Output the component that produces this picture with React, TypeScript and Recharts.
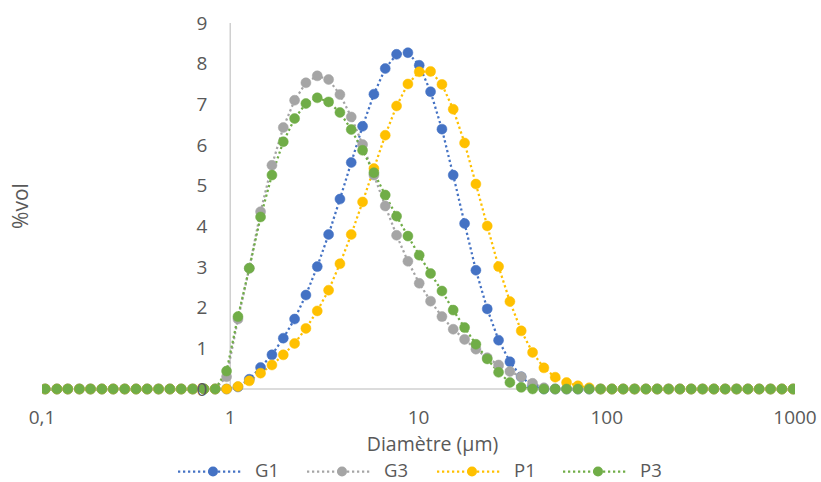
import { LineChart, Line, XAxis, YAxis, ReferenceLine, ReferenceDot, Legend } from 'recharts'

// particle size classes (µm), log spaced
const diameters = [
  0.104, 0.120, 0.137, 0.158, 0.181, 0.208, 0.239, 0.275, 0.316, 0.362,
  0.416, 0.478, 0.549, 0.631, 0.725, 0.832, 0.956, 1.099, 1.262, 1.449,
  1.665, 1.913, 2.197, 2.523, 2.899, 3.330, 3.825, 4.393, 5.046, 5.796,
  6.658, 7.648, 8.785, 10.09, 11.59, 13.32, 15.29, 17.57, 20.18, 23.18,
  26.63, 30.59, 35.13, 40.36, 46.36, 53.25, 61.17, 70.26, 80.71, 92.71,
  106.5, 122.3, 140.5, 161.4, 185.4, 213.0, 244.6, 281.0, 322.8, 370.7,
  425.9, 489.2, 561.9, 645.5, 741.4, 851.6, 978.3,
]

const g1 = [
  0, 0, 0, 0, 0, 0, 0, 0, 0, 0,
  0, 0, 0, 0, 0, 0, 0, 0.05, 0.24, 0.53,
  0.84, 1.25, 1.72, 2.31, 3.01, 3.80, 4.67, 5.57, 6.46, 7.25,
  7.88, 8.23, 8.27, 7.96, 7.31, 6.39, 5.26, 4.07, 2.92, 1.97,
  1.20, 0.67, 0.30, 0.07, 0, 0, 0, 0, 0, 0,
  0, 0, 0, 0, 0, 0, 0, 0, 0, 0,
  0, 0, 0, 0, 0, 0, 0,
]

const g3 = [
  0, 0, 0, 0, 0, 0, 0, 0, 0, 0,
  0, 0, 0, 0, 0, 0, 0.30, 1.72, 2.97, 4.36,
  5.50, 6.43, 7.10, 7.53, 7.70, 7.61, 7.24, 6.69, 6.01, 5.26,
  4.50, 3.78, 3.14, 2.60, 2.16, 1.78, 1.47, 1.22, 0.98, 0.77,
  0.59, 0.43, 0.30, 0.14, 0.03, 0, 0, 0, 0, 0,
  0, 0, 0, 0, 0, 0, 0, 0, 0, 0,
  0, 0, 0, 0, 0, 0, 0,
]

const p1 = [
  0, 0, 0, 0, 0, 0, 0, 0, 0, 0,
  0, 0, 0, 0, 0, 0, 0, 0.06, 0.20, 0.39,
  0.59, 0.84, 1.12, 1.49, 1.92, 2.43, 3.08, 3.80, 4.60, 5.42,
  6.24, 6.96, 7.50, 7.80, 7.81, 7.49, 6.88, 6.05, 5.04, 4.01,
  3.01, 2.15, 1.43, 0.90, 0.52, 0.29, 0.16, 0.08, 0.03, 0,
  0, 0, 0, 0, 0, 0, 0, 0, 0, 0,
  0, 0, 0, 0, 0, 0, 0,
]

const p3 = [
  0, 0, 0, 0, 0, 0, 0, 0, 0, 0,
  0, 0, 0, 0, 0, 0, 0.44, 1.78, 2.97, 4.23,
  5.26, 6.08, 6.65, 7.02, 7.16, 7.06, 6.80, 6.38, 5.87, 5.32,
  4.77, 4.25, 3.76, 3.29, 2.84, 2.41, 1.94, 1.51, 1.10, 0.74,
  0.41, 0.16, 0.04, 0, 0, 0, 0, 0, 0, 0,
  0, 0, 0, 0, 0, 0, 0, 0, 0, 0,
  0, 0, 0, 0, 0, 0, 0,
]

const xTicks = [0.1, 1, 10, 100, 1000]
const yTicks = [0, 1, 2, 3, 4, 5, 6, 7, 8, 9]

const series = [
  { key: 'g1', name: 'G1', color: '#4472C4' },
  { key: 'g3', name: 'G3', color: '#A5A5A5' },
  { key: 'p1', name: 'P1', color: '#FFC000' },
  { key: 'p3', name: 'P3', color: '#70AD47' },
]

// legend item offsets (px) from the legend's left edge
const legendSlots = [0, 129, 259, 385]

const data = diameters.map((d, i) => ({ d, g1: g1[i], g3: g3[i], p1: p1[i], p3: p3[i] }))

const FONT = '"Open Sans", sans-serif'
const TEXT = '#595959'
const AXIS = '#d0d0d0'

function fmtTick(v: number) {
  return String(v).replace('.', ',')
}

function LegendBox() {
  return (
    <svg width={520} height={24} style={{ display: 'block' }}>
      {series.map((s, i) => (
        <g key={s.key} transform={`translate(${legendSlots[i]},0)`}>
          <line x1={0} y1={13.5} x2={65} y2={13.5} stroke={s.color} strokeWidth={2.25} strokeDasharray="2.25 2.75" />
          <circle cx={35} cy={13.5} r={5} fill={s.color} />
          <text x={77} y={18.5} fontFamily={FONT} fontSize={18.5} fill={TEXT}>{s.name}</text>
        </g>
      ))}
    </svg>
  )
}

export default function App() {
  return (
    <div style={{ position: 'absolute', left: 0, top: 0, background: '#fff' }}>
      <LineChart width={821} height={482} data={data} margin={{ top: 23, right: 26, bottom: 0, left: 0 }}>
        <XAxis
          dataKey="d"
          type="number"
          scale="log"
          domain={[0.1, 1000]}
          ticks={xTicks}
          allowDataOverflow
          tickFormatter={fmtTick}
          tickLine={false}
          tickSize={0}
          tickMargin={21.5}
          height={93}
          axisLine={{ stroke: AXIS, strokeWidth: 1.5 }}
          tick={{ fontSize: 19, fill: TEXT, fontFamily: FONT }}
          label={{ value: 'Diamètre (µm)', position: 'insideTop', offset: 48, dx: 14, fontSize: 19.5, fill: TEXT, fontFamily: FONT }}
        />
        <YAxis
          type="number"
          domain={[0, 9]}
          ticks={yTicks}
          width={42}
          tick={false}
          tickLine={false}
          axisLine={false}
          label={{ value: '%vol', angle: -90, position: 'center', fontSize: 21, fill: TEXT, fontFamily: FONT }}
        />
        {/* vertical axis crosses at x = 1 */}
        <ReferenceLine x={1} stroke={AXIS} strokeWidth={1.5} />
        {yTicks.map(v => (
          <ReferenceDot
            key={v}
            x={1}
            y={v}
            r={0}
            fill="none"
            stroke="none"
            label={{ value: String(v), position: 'left', offset: 23, fontSize: 19, fill: TEXT, fontFamily: FONT }}
          />
        ))}
        <Legend
          layout="horizontal"
          verticalAlign="middle"
          align="center"
          wrapperStyle={{ top: 458, left: 178, width: 520, height: 24 }}
          content={() => <LegendBox />}
        />
        {series.map(s => (
          <Line
            key={s.key}
            type="linear"
            dataKey={s.key}
            name={s.name}
            stroke={s.color}
            strokeWidth={2.25}
            strokeDasharray="2.25 2.75"
            dot={{ r: 5, fill: s.color, stroke: s.color, strokeWidth: 0.5, strokeDasharray: '' }}
            activeDot={false}
            isAnimationActive={false}
          />
        ))}
      </LineChart>
    </div>
  )
}
